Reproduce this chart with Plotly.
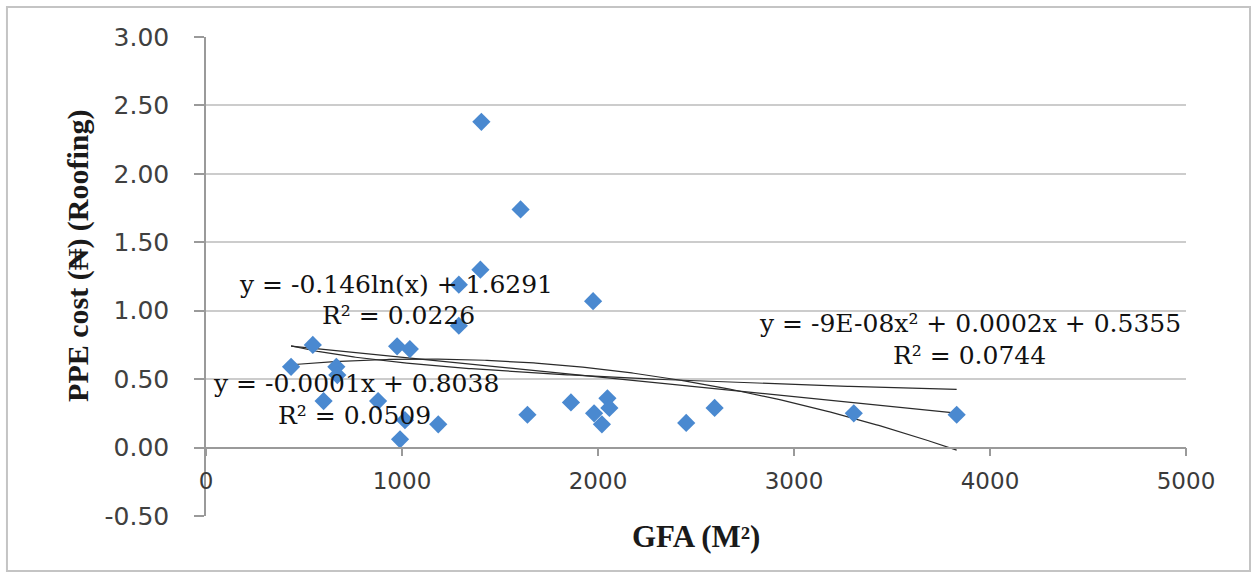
import numpy as np
import plotly.graph_objects as go

# Gross floor area (m²) and PPE cost for roofing works
gfa = [1405, 1605, 1400, 1290, 1975, 1290, 545, 975, 1040, 434, 665, 670,
       600, 878, 1015, 1185, 990, 1640, 1862, 2048, 2058, 1980, 2020, 2450,
       2595, 3305, 3830]
cost = [2.38, 1.74, 1.30, 1.19, 1.07, 0.89, 0.75, 0.74, 0.72, 0.59, 0.59, 0.53,
        0.34, 0.34, 0.20, 0.17, 0.06, 0.24, 0.33, 0.36, 0.29, 0.25, 0.17, 0.18,
        0.29, 0.25, 0.24]

# Trendline coefficients
log_coef = [-0.146, 1.6291]            # y = a ln(x) + b
lin_coef = [-0.000144, 0.8038]         # y = m x + c
quad_coef = [-9e-08, 0.0002, 0.5355]   # y = a x² + b x + c
r2_values = [0.0226, 0.0509, 0.0744]

y_ticks = [-0.5, 0.0, 0.5, 1.0, 1.5, 2.0, 2.5, 3.0]
y_tick_text = [f"{v:.2f}" for v in y_ticks]
x_ticks = [0, 1000, 2000, 3000, 4000, 5000]

xs = np.linspace(min(gfa), max(gfa), 300)
y_log = log_coef[0] * np.log(xs) + log_coef[1]
y_lin = lin_coef[0] * xs + lin_coef[1]
y_quad = quad_coef[0] * xs ** 2 + quad_coef[1] * xs + quad_coef[2]

fig = go.Figure()
line_style = dict(color="#2b2b2b", width=1.2)
for yy in (y_log, y_lin, y_quad):
    fig.add_trace(go.Scatter(x=xs, y=yy, mode="lines", line=line_style,
                             hoverinfo="skip", showlegend=False))

fig.add_trace(go.Scatter(
    x=gfa, y=cost, mode="markers",
    marker=dict(symbol="diamond", size=14, color="#4A89D0",
                line=dict(width=0)),
    showlegend=False))

grid_col = "#cccccc"
axis_col = "#9a9a9a"

fig.update_yaxes(
    range=[-0.5, 3.0], tickvals=y_ticks, ticktext=y_tick_text,
    showgrid=True, gridcolor=grid_col, gridwidth=1.5,
    zeroline=False, showline=True, linecolor=axis_col, linewidth=1.5,
    ticks="outside", ticklen=10, tickcolor=axis_col, tickwidth=1.5,
    ticklabelstandoff=20,
    tickfont=dict(family="DejaVu Sans", size=25, color="#404040"),
)
fig.update_xaxes(
    range=[0, 5000], tickvals=x_ticks,
    showgrid=False, zeroline=False,
    anchor="free", position=0.5 / 3.5,
    showline=True, linecolor=axis_col, linewidth=1.5,
    ticks="outside", ticklen=8, tickcolor=axis_col, tickwidth=1.5,
    ticklabelstandoff=5,
    tickfont=dict(family="DejaVu Sans", size=23, color="#3a3a3a"),
)

eq_font = dict(family="DejaVu Serif", size=25, color="#111111")
log_eq = f"y = {log_coef[0]:.3f}ln(x) + {log_coef[1]:.4f}"
lin_eq = f"y = {lin_coef[0]:.4f}x + {lin_coef[1]:.4f}"
quad_eq = (f"y = {quad_coef[0]:.0E}x² + {quad_coef[1]:.4f}x + "
           f"{quad_coef[2]:.4f}")
labels = [
    (log_eq, 970, 1.195), (f"R² = {r2_values[0]:.4f}", 980, 0.965),
    (lin_eq, 766, 0.468), (f"R² = {r2_values[1]:.4f}", 756, 0.238),
    (quad_eq, 3897, 0.905), (f"R² = {r2_values[2]:.4f}", 3897, 0.675),
]
for text, ax, ay in labels:
    fig.add_annotation(x=ax, y=ay, xref="x", yref="y", text=text,
                       showarrow=False, font=eq_font,
                       xanchor="center", yanchor="middle")

fig.add_annotation(x=-0.1306, y=0.543, xref="paper", yref="paper",
                   text="<b>PPE cost (₦) (Roofing)</b>", textangle=-90,
                   showarrow=False,
                   font=dict(family="Liberation Serif", size=30, color="#1a1a1a"),
                   xanchor="center", yanchor="middle")
fig.add_annotation(x=0.5, y=-0.0438, xref="paper", yref="paper",
                   text="<b>GFA (M²)</b>", showarrow=False,
                   font=dict(family="Liberation Serif", size=31, color="#1a1a1a"),
                   xanchor="center", yanchor="middle")

# chart-area frame
fig.add_shape(type="rect", xref="paper", yref="paper",
              x0=-0.2031, x1=1.0653, y0=-0.1148, y1=1.0626,
              line=dict(color="#c4c4c4", width=2), layer="below")

fig.update_layout(
    width=1253, height=579,
    margin=dict(l=206, r=67, t=37, b=63),
    paper_bgcolor="white", plot_bgcolor="white",
    showlegend=False,
)

fig.write_html("out.html")
